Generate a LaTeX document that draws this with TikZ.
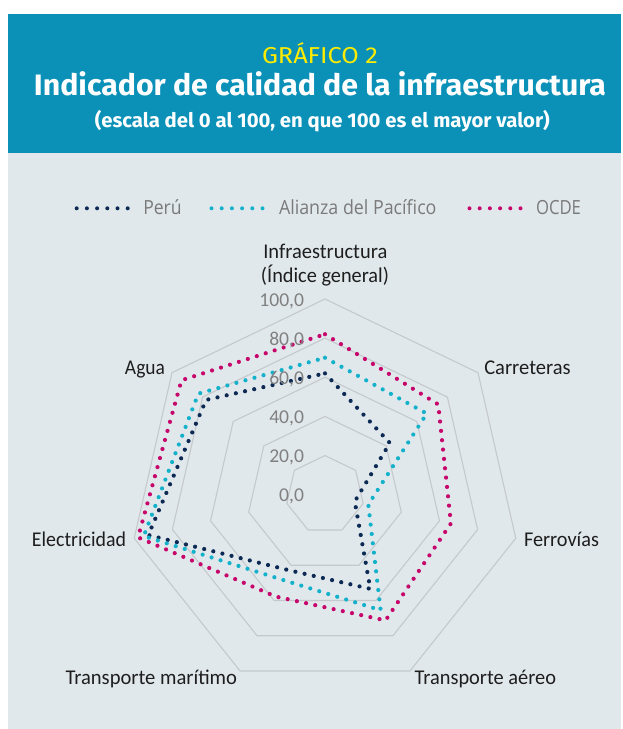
\documentclass[tikz,border=0pt]{standalone}
\usepackage{fontspec}
\usepackage{graphicx}
\newfontfamily\firaR{Fira Sans}
\newfontfamily\calib{Carlito}
\newfontfamily\opens{Open Sans}
\definecolor{bandblue}{HTML}{0B91B8}
\definecolor{bggray}{HTML}{E1E8EC}
\definecolor{ttlyellow}{HTML}{FFEC00}
\definecolor{peru}{HTML}{0C2A53}
\definecolor{apc}{HTML}{14B1CA}
\definecolor{ocde}{HTML}{C6066B}
\definecolor{ringgray}{HTML}{C5C9CC}
\definecolor{sclgray}{HTML}{808080}
\definecolor{axtext}{HTML}{1E1E1E}
\definecolor{leggray}{HTML}{7A7A7A}
\newcommand\fitw[2]{\resizebox{#1pt}{\height}{#2}}
\tikzset{
  lbl/.style={inner sep=0pt, outer sep=0pt, anchor=base},
  ser/.style={line width=4.2pt, line cap=round, line join=round, dash pattern=on 0pt off 9.4pt},
  legser/.style={line width=4pt, line cap=round, dash pattern=on 0pt off 10.2pt},
  ring/.style={draw=ringgray, line width=1.1pt, line join=round},
  axlbl/.style={lbl, text=axtext, font=\fontsize{21}{21}\calib},
  scl/.style={inner sep=0pt, outer sep=0pt, anchor=base east, text=sclgray, font=\fontsize{19.6}{20}\calib},
  legtxt/.style={inner sep=0pt, outer sep=0pt, anchor=base west, text=leggray, font=\fontsize{19.5}{20}\opens}
}
\begin{document}
\begin{tikzpicture}[x=1pt,y=-1pt]
\useasboundingbox (0,0) rectangle (622,729);
\fill[white] (0,0) rectangle (622,729);
\fill[bandblue] (8,14) rectangle (621,152.7);
\fill[bggray] (8,152.7) rectangle (621,729);

% header
\node[lbl, text=ttlyellow] (g2) at (320,63.3) {\fitw{116}{\fontsize{23}{23}\firaR GRÁFICO 2}};
\node[lbl, text=white] (ttl) at (320,95.3) {\fitw{572}{\fontsize{29.5}{30}\firaR\bfseries Indicador de calidad de la infraestructura}};
\node[lbl, text=white] (sub) at (322.3,127) {\fitw{455}{\fontsize{20}{20}\firaR\bfseries (escala del 0 al 100, en que 100 es el mayor valor)}};

% legend
\coordinate (lpa) at (76.7,208.3); \coordinate (lpb) at (127.7,208.3);
\coordinate (laa) at (211.5,208.3); \coordinate (lab) at (262.5,208.3);
\coordinate (loa) at (469.5,208.3); \coordinate (lob) at (520.5,208.3);
\draw[legser, peru] (lpa) -- (lpb);
\draw[legser, apc] (laa) -- (lab);
\draw[legser, ocde] (loa) -- (lob);
\node[legtxt] (lt1) at (143.3,214.3) {\fitw{38.4}{Perú}};
\node[legtxt] (lt2) at (279,214.3) {\fitw{157.5}{Alianza del Pacífico}};
\node[legtxt] (lt3) at (536,214.3) {\fitw{45}{OCDE}};

% radar
\begin{scope}[shift={(325,494.7)}, x=1.957pt, y=1.957pt]
\foreach \k in {20,40,60,80,100} {
  \draw[ring] (90:\k) -- (38.571:\k) -- (-12.857:\k) -- (-64.286:\k) -- (-115.714:\k) -- (-167.143:\k) -- (141.429:\k) -- cycle;
}
\draw[ser, peru] (90:62) -- (38.571:42.4) -- (-12.857:15.6) -- (-64.286:53.4) -- (-115.714:42.8) -- (-167.143:92.6) -- (141.429:77.7) -- cycle;
\draw[ser, apc] (90:70) -- (38.571:66.5) -- (-12.857:22.7) -- (-64.286:65.5) -- (-115.714:48.5) -- (-167.143:95) -- (141.429:82.8) -- cycle;
\draw[ser, ocde] (90:82) -- (38.571:74) -- (-12.857:66) -- (-64.286:71.3) -- (-115.714:57.8) -- (-167.143:98) -- (141.429:93.8) -- cycle;
\end{scope}

% scale labels
\node[scl] (s0) at (304,501.7) {0,0};
\node[scl] (s20) at (304,462.6) {20,0};
\node[scl] (s40) at (304,423.4) {40,0};
\node[scl] (s60) at (304,384.3) {60,0};
\node[scl] (s80) at (304,345.1) {80,0};
\node[scl] (s100) at (304,306.0) {100,0};

% axis labels
\node[axlbl] (infra1) at (325.3,258.3) {\fitw{124}{Infraestructura}};
\node[axlbl] (infra2) at (325,282) {\fitw{128}{(Índice general)}};
\node[axlbl] (carr) at (527.5,374) {\fitw{86.4}{Carreteras}};
\node[axlbl] (ferr) at (561.5,546.7) {\fitw{75}{Ferrovías}};
\node[axlbl] (aereo) at (485.4,684.3) {\fitw{141.3}{Transporte aéreo}};
\node[axlbl] (marit) at (151.3,684.3) {\fitw{171.5}{Transporte marítimo}};
\node[axlbl] (elec) at (79,546.7) {\fitw{94}{Electricidad}};
\node[axlbl] (agua) at (145,374) {\fitw{40}{Agua}};
\end{tikzpicture}
\end{document}
